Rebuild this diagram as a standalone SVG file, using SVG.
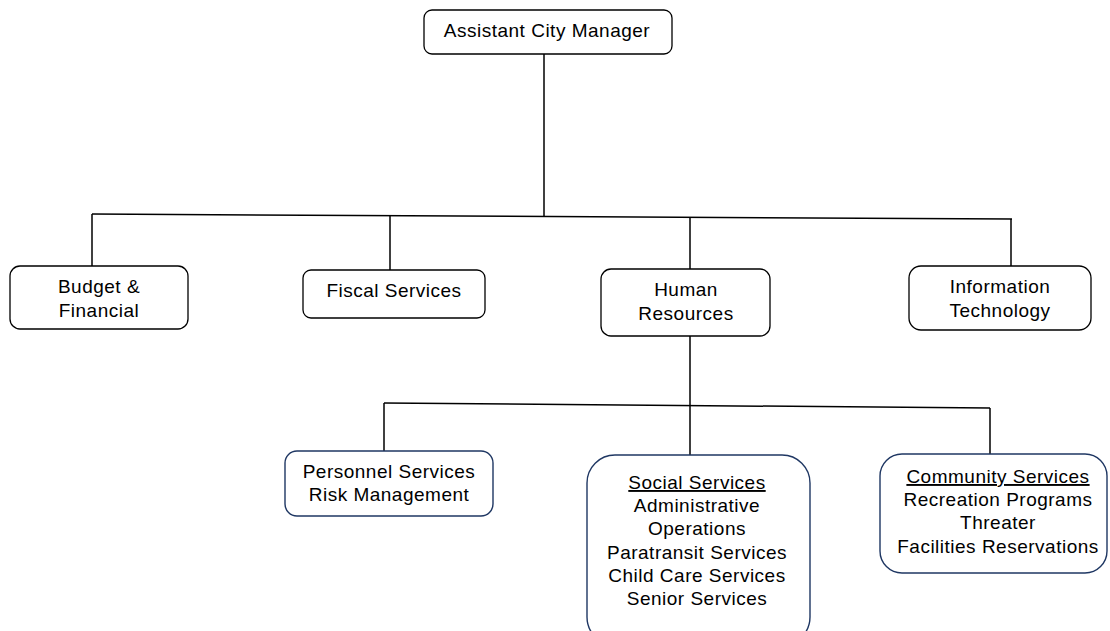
<svg xmlns="http://www.w3.org/2000/svg" width="1110" height="631" viewBox="0 0 1110 631">
  <style>
    .box { fill: #ffffff; stroke: #000000; stroke-width: 1.3; }
    .sub { fill: #ffffff; stroke: #1f3763; stroke-width: 1.4; }
    .wire { stroke: #000000; stroke-width: 1.5; fill: none; }
    text { font-family: "Liberation Sans", Arial, sans-serif; font-size: 19px; letter-spacing: 0.5px; fill: #000000; text-anchor: middle; }
    .u { text-decoration: underline; }
  </style>
  <rect width="1110" height="631" fill="#ffffff"/>

  <g id="connectors">
    <line class="wire" x1="544" y1="54" x2="544" y2="216.5"/>
    <line class="wire" x1="92" y1="214" x2="1012" y2="219"/>
    <line class="wire" x1="92" y1="214" x2="92" y2="266"/>
    <line class="wire" x1="390" y1="215.6" x2="390" y2="270"/>
    <line class="wire" x1="690" y1="217.2" x2="690" y2="269"/>
    <line class="wire" x1="1011" y1="219" x2="1011" y2="266"/>
    <line class="wire" x1="690" y1="336" x2="690" y2="455"/>
    <line class="wire" x1="384" y1="403" x2="990" y2="408"/>
    <line class="wire" x1="384" y1="403" x2="384" y2="451"/>
    <line class="wire" x1="990" y1="408" x2="990" y2="454"/>
  </g>

  <g id="assistant-city-manager">
    <rect class="box" x="424" y="10" width="248" height="44" rx="8"/>
    <text x="547" y="37">Assistant City Manager</text>
  </g>

  <g id="budget-financial">
    <rect class="box" x="10" y="266" width="178" height="63" rx="10"/>
    <text x="99" y="293">Budget &amp;</text>
    <text x="99" y="317">Financial</text>
  </g>

  <g id="fiscal-services">
    <rect class="box" x="303" y="270" width="182" height="48" rx="8"/>
    <text x="394" y="297">Fiscal Services</text>
  </g>

  <g id="human-resources">
    <rect class="box" x="601" y="269" width="169" height="67" rx="10"/>
    <text x="686" y="296">Human</text>
    <text x="686" y="320">Resources</text>
  </g>

  <g id="information-technology">
    <rect class="box" x="909" y="266" width="182" height="64" rx="12"/>
    <text x="1000" y="293">Information</text>
    <text x="1000" y="317">Technology</text>
  </g>

  <g id="personnel-services">
    <rect class="sub" x="285" y="451" width="208" height="65" rx="12"/>
    <text x="389" y="478">Personnel Services</text>
    <text x="389" y="501">Risk Management</text>
  </g>

  <g id="social-services">
    <rect class="sub" x="587" y="455" width="223" height="190" rx="28"/>
    <text class="u" x="697" y="489">Social Services</text>
    <text x="697" y="512">Administrative</text>
    <text x="697" y="535">Operations</text>
    <text x="697" y="559">Paratransit Services</text>
    <text x="697" y="582">Child Care Services</text>
    <text x="697" y="605">Senior Services</text>
  </g>

  <g id="community-services">
    <rect class="sub" x="880" y="454" width="227" height="119" rx="22"/>
    <text class="u" x="998" y="483">Community Services</text>
    <text x="998" y="506">Recreation Programs</text>
    <text x="998" y="529">Threater</text>
    <text x="998" y="553">Facilities Reservations</text>
  </g>
</svg>
